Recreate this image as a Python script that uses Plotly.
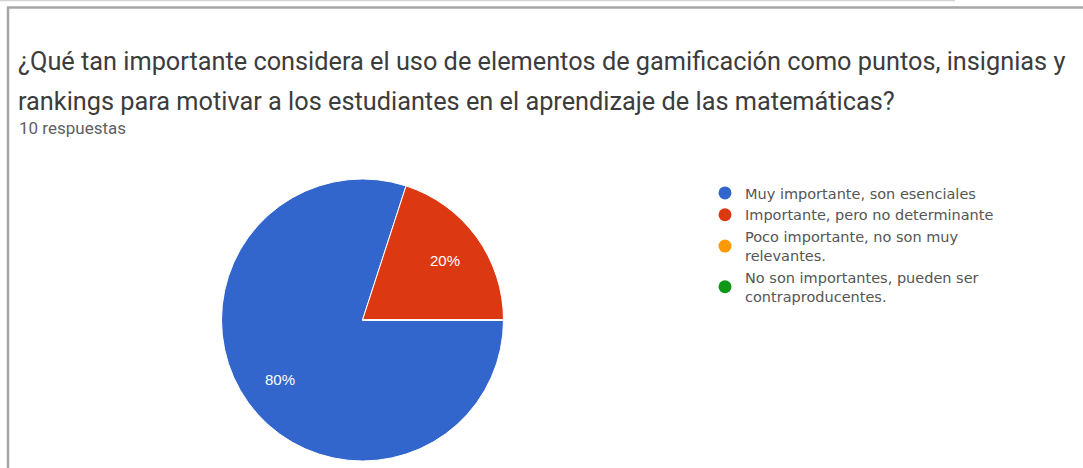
import math
import plotly.graph_objects as go

W, H = 1083, 468

categories = [
    "Muy importante, son esenciales",
    "Importante, pero no determinante",
    "Poco importante, no son muy<br>relevantes.",
    "No son importantes, pueden ser<br>contraproducentes.",
]
responses = [8, 2, 0, 0]
colors = ["#3366cc", "#dc3912", "#ff9900", "#109618"]

title_lines = [
    "¿Qué tan importante considera el uso de elementos de gamificación como puntos, insignias y",
    "rankings para motivar a los estudiantes en el aprendizaje de las matemáticas?",
]
subtitle = "10 respuestas"

def px_x(x):
    return x / W

def px_y(y):
    return 1 - y / H

fig = go.Figure()

# pie geometry (pixels)
cx, cy, r = 362.5, 320, 141
start_deg = 0.0  # first slice starts at 3 o'clock, clockwise
fig.add_trace(go.Pie(
    labels=categories,
    values=responses,
    marker=dict(colors=colors, line=dict(color="white", width=1)),
    sort=False,
    direction="clockwise",
    rotation=90,
    textinfo="none",
    showlegend=False,
    domain=dict(x=[px_x(cx - r), px_x(cx + r)], y=[px_y(cy + r), px_y(cy - r)]),
    hoverinfo="label+percent",
))

# legend-only traces with round markers
for lab, col in zip(categories, colors):
    fig.add_trace(go.Scatter(
        x=[None], y=[None], mode="markers", name=lab,
        marker=dict(color=col, size=13, symbol="circle"),
        showlegend=True, hoverinfo="skip",
    ))

fig.update_xaxes(visible=False)
fig.update_yaxes(visible=False)

annotations = [
    dict(text=title_lines[0], x=px_x(16), y=px_y(62), xref="paper", yref="paper",
         xanchor="left", yanchor="middle", showarrow=False,
         font=dict(family="Roboto", size=25.3, color="#3c3c3c")),
    dict(text=title_lines[1], x=px_x(16), y=px_y(101), xref="paper", yref="paper",
         xanchor="left", yanchor="middle", showarrow=False,
         font=dict(family="Roboto", size=25.3, color="#3c3c3c")),
    dict(text=subtitle, x=px_x(17), y=px_y(128), xref="paper", yref="paper",
         xanchor="left", yanchor="middle", showarrow=False,
         font=dict(family="Roboto", size=17, color="#5f5f5f")),
]

# percentage labels placed along each slice's mid-angle (computed from the data)
total = sum(responses)
acc = 0.0
for v in responses:
    if v > 0:
        mid = acc + v / 2
        ang = math.radians(start_deg + 360 * mid / total)  # clockwise from 3 o'clock
        lx = cx + 0.72 * r * math.cos(ang)
        ly = cy + 0.72 * r * math.sin(ang)
        annotations.append(dict(
            text=f"{round(100 * v / total)}%", x=px_x(lx), y=px_y(ly),
            xref="paper", yref="paper", xanchor="center", yanchor="middle",
            showarrow=False, font=dict(family="Arial", size=15, color="white"),
        ))
    acc += v

shapes = [
    dict(type="line", xref="paper", yref="paper", x0=0, x1=px_x(955), y0=px_y(0.5), y1=px_y(0.5),
         line=dict(color="#d4d4d4", width=1.5)),
    dict(type="line", xref="paper", yref="paper", x0=px_x(7), x1=1, y0=px_y(7.5), y1=px_y(7.5),
         line=dict(color="#a6a6a6", width=2.5)),
    dict(type="line", xref="paper", yref="paper", x0=px_x(8), x1=px_x(8), y0=px_y(7), y1=0,
         line=dict(color="#a6a6a6", width=2.5)),
]

fig.update_layout(
    width=W, height=H,
    margin=dict(l=0, r=0, t=0, b=0),
    paper_bgcolor="white", plot_bgcolor="white",
    annotations=annotations,
    shapes=shapes,
    legend=dict(x=px_x(705), y=px_y(177), xanchor="left", yanchor="top",
                font=dict(family="DejaVu Sans", size=14.5, color="#555555"),
                bgcolor="rgba(0,0,0,0)", tracegroupgap=0, itemclick=False,
                itemwidth=30),
)

fig.write_html("out.html")
